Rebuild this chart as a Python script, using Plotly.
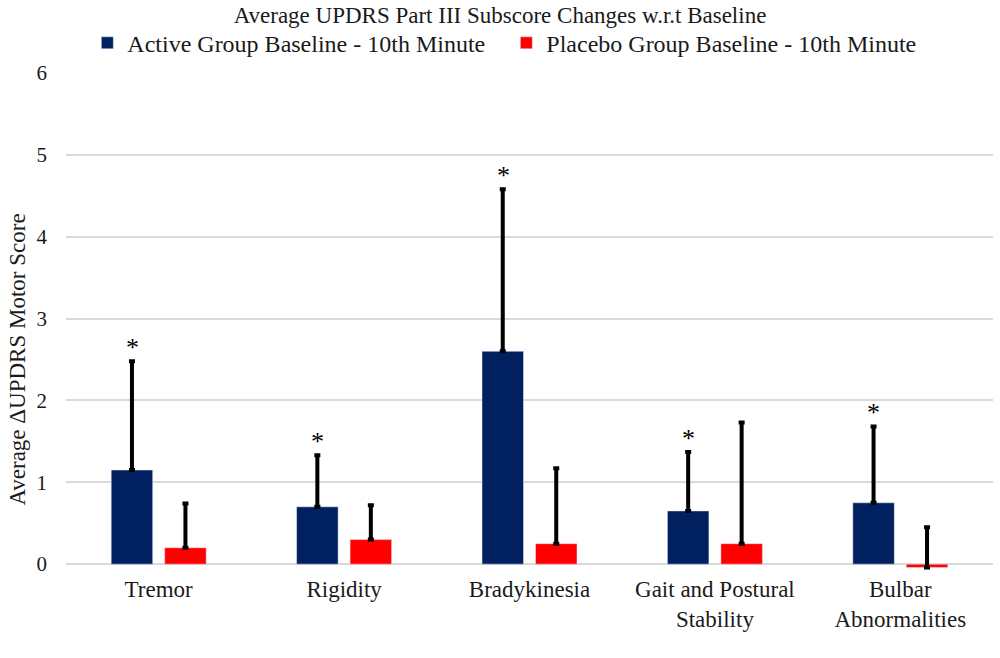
import plotly.graph_objects as go

# Data
categories = ["Tremor", "Rigidity", "Bradykinesia", "Gait and Postural<br>Stability", "Bulbar<br>Abnormalities"]
active_mean = [1.15, 0.70, 2.60, 0.65, 0.75]
active_err = [1.33, 0.63, 1.98, 0.72, 0.93]
placebo_mean = [0.20, 0.30, 0.25, 0.25, -0.04]
placebo_err = [0.54, 0.42, 0.92, 1.48, 0.49]
active_sig = ["*", "*", "*", "*", "*"]

FONT = "Liberation Serif"
NAVY = "#002060"
RED = "#FF0000"
TXT = "#1a1a1a"

fig = go.Figure()

fig.add_trace(go.Bar(
    x=categories, y=active_mean,
    name="Active Group Baseline - 10th Minute",
    marker_color=NAVY,
    error_y=dict(type="data", array=active_err, arrayminus=[0] * 5, symmetric=False,
                 color="black", thickness=4, width=3),
))
fig.add_trace(go.Bar(
    x=categories, y=placebo_mean,
    name="Placebo Group Baseline - 10th Minute",
    marker_color=RED,
    error_y=dict(type="data", array=placebo_err, arrayminus=[0] * 5, symmetric=False,
                 color="black", thickness=4, width=3),
))

# significance asterisks above the active-group error bars
for cat, m, e, s in zip(categories, active_mean, active_err, active_sig):
    fig.add_annotation(
        x=cat, y=m + e, text=s, showarrow=False,
        xshift=-26.5, yshift=14, font=dict(family=FONT, size=26, color="black"),
    )

fig.update_layout(
    width=1000, height=658,
    paper_bgcolor="white", plot_bgcolor="white",
    margin=dict(l=66, r=7, t=73, b=12, autoexpand=False),
    title=dict(text="Average UPDRS Part III Subscore Changes w.r.t Baseline",
               x=0.5, xanchor="center", y=0.978, yanchor="middle",
               font=dict(family=FONT, size=23, color=TXT)),
    legend=dict(orientation="h", x=0.475, xanchor="center", y=1.052, yanchor="middle",
                font=dict(family=FONT, size=24, color=TXT),
                itemwidth=30, entrywidth=374, bgcolor="rgba(0,0,0,0)"),
    barmode="group", bargap=0.423, bargroupgap=0.224,
    font=dict(family=FONT, color=TXT),
    showlegend=True,
)

fig.update_xaxes(
    anchor="free", position=1 / 7,
    showgrid=False, showline=False, ticks="",
    ticklabelstandoff=9,
    tickfont=dict(family=FONT, size=23, color=TXT),
)
fig.update_yaxes(
    range=[-1, 6], dtick=1, tick0=0, automargin=False,
    showgrid=True, gridcolor="#D9D9D9", gridwidth=1.5,
    zeroline=False, showline=False, ticks="",
    ticklabelstandoff=18,
    tickfont=dict(family=FONT, size=21, color=TXT),
    title=dict(text="Average ΔUPDRS Motor Score", standoff=4,
               font=dict(family=FONT, size=23, color=TXT)),
)

# the page has a default 8px body margin; remove it so the figure sits at the corner
fig.write_html("out.html", config={"displayModeBar": False},
               post_script="document.body.style.margin='0';")
